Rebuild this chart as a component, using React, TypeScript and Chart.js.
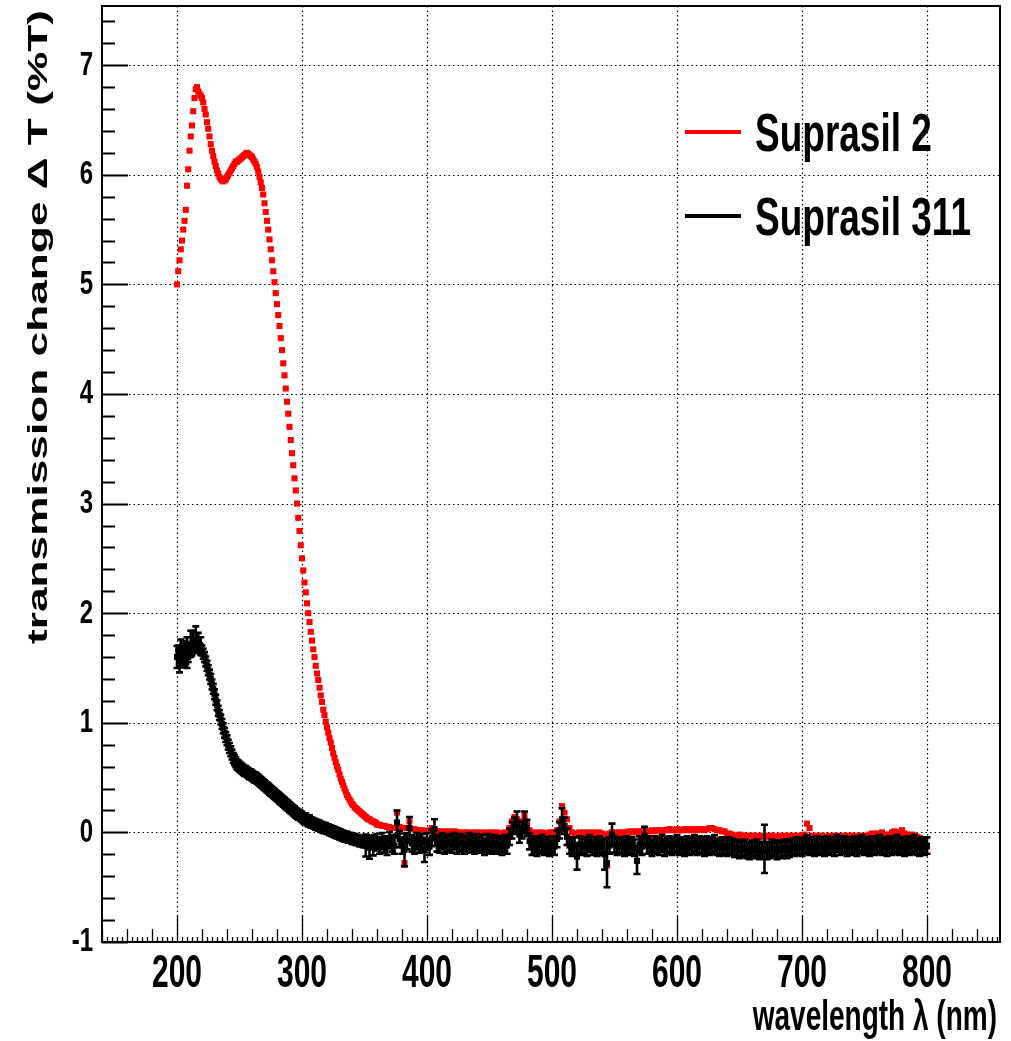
import React, { useEffect, useRef } from "react";
import { Chart, registerables } from "chart.js";

Chart.register(...registerables);

// ---- data ----
// fine scan: 200..359 nm every 1 nm ; coarse scan: 360..800 nm every 2 nm
const FINE_START = 200;
const FINE_STEP = 1;
const COARSE_START = 360;
const COARSE_STEP = 2;

const suprasil2Fine = [
  5.00, 5.12, 5.22, 5.32, 5.40, 5.50, 5.58, 5.68, 5.90, 6.05,
  6.22, 6.35, 6.45, 6.58, 6.70, 6.78, 6.80, 6.76, 6.74, 6.72,
  6.70, 6.66, 6.60, 6.55, 6.48, 6.42, 6.35, 6.28, 6.22, 6.17,
  6.12, 6.08, 6.04, 6.01, 5.98, 5.96, 5.95, 5.94, 5.95, 5.96,
  5.98, 6.00, 6.02, 6.04, 6.06, 6.08, 6.10, 6.12, 6.12, 6.13,
  6.14, 6.15, 6.16, 6.17, 6.18, 6.19, 6.20, 6.19, 6.18, 6.17,
  6.16, 6.14, 6.12, 6.10, 6.07, 6.03, 5.98, 5.93, 5.88, 5.82,
  5.74, 5.66, 5.58, 5.50, 5.41, 5.32, 5.22, 5.12, 5.02, 4.92,
  4.82, 4.72, 4.62, 4.51, 4.40, 4.28, 4.17, 4.05, 3.93, 3.82,
  3.70, 3.58, 3.46, 3.35, 3.23, 3.12, 3.00, 2.87, 2.75, 2.62,
  2.50, 2.39, 2.28, 2.19, 2.09, 2.00, 1.92, 1.83, 1.75, 1.67,
  1.60, 1.52, 1.45, 1.39, 1.32, 1.25, 1.19, 1.12, 1.07, 1.01,
  0.96, 0.91, 0.86, 0.82, 0.77, 0.72, 0.68, 0.64, 0.60, 0.57,
  0.53, 0.49, 0.46, 0.43, 0.40, 0.37, 0.34, 0.32, 0.30, 0.28,
  0.26, 0.25, 0.23, 0.22, 0.21, 0.20, 0.19, 0.18, 0.17, 0.16,
  0.15, 0.14, 0.13, 0.12, 0.12, 0.11, 0.10, 0.10, 0.09, 0.09,
];

const suprasil2Coarse = [
  0.07, 0.07, 0.06, 0.06, 0.05, 0.05, 0.04, 0.04, 0.18, 0.05,
  0.04, -0.28, 0.04, 0.10, 0.03, 0.03, 0.02, 0.02, 0.02, 0.01,
  0.01, 0.02, 0.04, 0.02, 0.01, 0.01, 0.00, 0.01, 0.00, 0.01,
  0.00, 0.01, 0.00, 0.00, -0.01, 0.00, 0.00, -0.01, 0.00, -0.01,
  0.00, -0.01, 0.00, -0.01, 0.00, -0.01, 0.00, -0.01, 0.00, -0.01,
  -0.01, 0.00, -0.01, 0.04, 0.10, 0.14, 0.12, 0.06, 0.10, 0.15,
  0.08, 0.02, 0.00, -0.01, 0.00, -0.01, 0.00, -0.01, -0.01, 0.00,
  0.00, 0.00, 0.02, 0.10, 0.24, 0.18, 0.12, 0.04, 0.00, -0.01,
  -0.22, 0.00, -0.01, 0.00, -0.01, 0.00, -0.01, 0.00, -0.01, 0.00,
  -0.01, -0.02, -0.30, -0.01, 0.00, -0.01, 0.00, 0.00, -0.01, 0.00,
  0.00, 0.01, 0.00, 0.01, 0.00, 0.01, 0.01, 0.00, 0.01, 0.01,
  0.02, 0.01, 0.02, 0.02, 0.01, 0.02, 0.02, 0.03, 0.02, 0.02,
  0.03, 0.02, 0.02, 0.03, 0.02, 0.03, 0.02, 0.03, 0.02, 0.03,
  0.03, 0.02, 0.03, 0.04, 0.04, 0.03, 0.02, 0.02, 0.01, 0.01,
  -0.02, -0.01, -0.02, -0.03, -0.03, -0.02, -0.03, -0.03, -0.04, -0.03,
  -0.03, -0.04, -0.03, -0.04, -0.03, -0.04, -0.03, -0.04, -0.03, -0.04,
  -0.04, -0.03, -0.04, -0.03, -0.04, -0.03, -0.04, -0.03, -0.04, -0.03,
  -0.03, -0.02, 0.08, 0.04, -0.03, -0.04, -0.03, -0.04, -0.03, -0.04,
  -0.04, -0.03, -0.04, -0.03, -0.04, -0.03, -0.04, -0.03, -0.04, -0.03,
  -0.03, -0.04, -0.03, -0.04, -0.03, -0.04, -0.03, -0.02, -0.01, -0.02,
  -0.01, -0.02, 0.00, -0.02, -0.03, -0.02, 0.00, 0.01, 0.00, -0.02,
  0.02, -0.01, -0.02, -0.03, -0.02, -0.03, -0.04, -0.05, -0.07, -0.09,
  -0.13,
];

const suprasil311Fine = [
  1.60, 1.66, 1.58, 1.68, 1.55, 1.62, 1.70, 1.58, 1.64, 1.60,
  1.68, 1.72, 1.66, 1.74, 1.70, 1.76, 1.71, 1.73, 1.68, 1.70,
  1.66, 1.63, 1.60, 1.56, 1.52, 1.48, 1.44, 1.40, 1.35, 1.31,
  1.26, 1.21, 1.16, 1.11, 1.07, 1.03, 0.99, 0.95, 0.91, 0.87,
  0.84, 0.80, 0.77, 0.74, 0.71, 0.68, 0.66, 0.64, 0.62, 0.61,
  0.60, 0.59, 0.58, 0.57, 0.56, 0.56, 0.55, 0.54, 0.53, 0.53,
  0.52, 0.51, 0.50, 0.50, 0.49, 0.48, 0.47, 0.46, 0.45, 0.44,
  0.43, 0.42, 0.41, 0.40, 0.39, 0.38, 0.37, 0.36, 0.35, 0.34,
  0.33, 0.32, 0.31, 0.30, 0.29, 0.28, 0.27, 0.26, 0.25, 0.24,
  0.23, 0.22, 0.21, 0.20, 0.19, 0.18, 0.17, 0.16, 0.16, 0.15,
  0.14, 0.13, 0.12, 0.13, 0.11, 0.10, 0.11, 0.09, 0.09, 0.08,
  0.08, 0.07, 0.07, 0.06, 0.06, 0.05, 0.05, 0.04, 0.04, 0.04,
  0.03, 0.03, 0.02, 0.02, 0.01, 0.01, 0.00, 0.00, -0.01, -0.01,
  -0.02, -0.02, -0.03, -0.03, -0.04, -0.04, -0.04, -0.05, -0.05, -0.05,
  -0.06, -0.06, -0.06, -0.07, -0.07, -0.07, -0.08, -0.08, -0.08, -0.09,
  -0.09, -0.12, -0.07, -0.10, -0.14, -0.08, -0.10, -0.13, -0.07, -0.11,
];

const suprasil311Coarse = [
  -0.09, -0.12, -0.08, -0.11, -0.13, -0.07, -0.10, -0.12, 0.09, -0.06,
  -0.12, -0.16, -0.08, 0.04, -0.10, -0.12, -0.08, -0.11, -0.09, -0.16,
  -0.08, -0.13, -0.05, 0.03, -0.10, -0.11, -0.08, -0.12, -0.10, -0.09,
  -0.11, -0.08, -0.12, -0.10, -0.09, -0.12, -0.11, -0.08, -0.10, -0.12,
  -0.09, -0.11, -0.10, -0.13, -0.09, -0.11, -0.12, -0.10, -0.12, -0.11,
  -0.13, -0.10, -0.12, -0.04, 0.02, 0.06, 0.09, -0.02, 0.02, 0.09,
  0.04, -0.08, -0.13, -0.11, -0.14, -0.12, -0.10, -0.13, -0.12, -0.14,
  -0.11, -0.13, -0.06, 0.02, 0.12, 0.06, -0.04, -0.12, -0.14, -0.12,
  -0.22, -0.11, -0.13, -0.12, -0.14, -0.10, -0.13, -0.12, -0.14, -0.11,
  -0.13, -0.20, -0.28, -0.12, -0.02, -0.11, -0.13, -0.12, -0.12, -0.14,
  -0.11, -0.13, -0.12, -0.14, -0.26, -0.11, -0.13, -0.03, -0.12, -0.11,
  -0.14, -0.11, -0.12, -0.13, -0.10, -0.14, -0.12, -0.11, -0.13, -0.12,
  -0.10, -0.13, -0.12, -0.14, -0.11, -0.13, -0.12, -0.10, -0.13, -0.11,
  -0.12, -0.14, -0.11, -0.13, -0.12, -0.10, -0.13, -0.14, -0.12, -0.13,
  -0.14, -0.12, -0.13, -0.15, -0.14, -0.16, -0.15, -0.14, -0.16, -0.17,
  -0.15, -0.16, -0.14, -0.17, -0.16, -0.15, -0.17, -0.16, -0.14, -0.15,
  -0.17, -0.15, -0.16, -0.14, -0.16, -0.15, -0.13, -0.14, -0.12, -0.13,
  -0.14, -0.12, -0.10, -0.13, -0.12, -0.14, -0.11, -0.13, -0.12, -0.14,
  -0.11, -0.13, -0.12, -0.14, -0.10, -0.13, -0.12, -0.11, -0.14, -0.12,
  -0.13, -0.11, -0.14, -0.12, -0.10, -0.13, -0.12, -0.14, -0.11, -0.13,
  -0.12, -0.10, -0.13, -0.12, -0.14, -0.11, -0.13, -0.12, -0.10, -0.13,
  -0.12, -0.14, -0.11, -0.13, -0.12, -0.10, -0.13, -0.14, -0.12, -0.13,
  -0.12,
];

const ERR_FINE = 0.045;
const ERR_COARSE = 0.075;
const errSpikes: [number, number][] = [
  [200, 0.10], [202, 0.12], [203, 0.08], [205, 0.10], [208, 0.14], [211, 0.12], [213, 0.10],
  [215, 0.12], [217, 0.09], [219, 0.08],
  [351, 0.10], [354, 0.10], [357, 0.08], [376, 0.11], [382, 0.15], [386, 0.10], [398, 0.11],
  [406, 0.09], [472, 0.10], [478, 0.10], [508, 0.10], [520, 0.12], [542, 0.14], [544, 0.22],
  [548, 0.10], [568, 0.12], [574, 0.08], [670, 0.22],
];

const xTickValues = [200, 300, 400, 500, 600, 700, 800];
const yTickValues = [-1, 0, 1, 2, 3, 4, 5, 6, 7];
const legendLabels = ["Suprasil 2", "Suprasil 311"];
const seriesColors = ["#ff0000", "#000000"];
const xTitle = "wavelength \u03bb (nm)";
const yTitle = "transmission change \u0394 T (%T)";

const X_MIN = 140, X_MAX = 858.4, Y_MIN = -1, Y_MAX = 7.54;

const toPts = (fine: number[], coarse: number[]) => [
  ...fine.map((v, i) => ({ x: FINE_START + FINE_STEP * i, y: v })),
  ...coarse.map((v, i) => ({ x: COARSE_START + COARSE_STEP * i, y: v })),
];
const errFor = (x: number) => {
  const s = errSpikes.find((e) => e[0] === x);
  return s ? s[1] : x < COARSE_START ? ERR_FINE : ERR_COARSE;
};

const FONT = '"Liberation Sans", Arial, Helvetica, sans-serif';

function txt(ctx: CanvasRenderingContext2D, s: string, x: number, y: number, size: number, sy: number,
  align: CanvasTextAlign, baseline: CanvasTextBaseline, rotate = false) {
  ctx.save();
  ctx.translate(x, y);
  ctx.scale(1, sy);
  if (rotate) ctx.rotate(-Math.PI / 2);
  ctx.font = `bold ${size}px ${FONT}`;
  ctx.textAlign = align;
  ctx.textBaseline = baseline;
  ctx.fillStyle = "#000";
  ctx.fillText(s, 0, 0);
  ctx.restore();
}

const blackPts = toPts(suprasil311Fine, suprasil311Coarse);
const redPts = toPts(suprasil2Fine, suprasil2Coarse);

const rootPlugin = {
  id: "rootStyle",
  beforeDatasetsDraw(chart: any) {
    const { ctx, chartArea: a, scales } = chart;
    const xs = scales.x, ys = scales.y;
    ctx.save();
    ctx.strokeStyle = "#000";
    ctx.lineWidth = 1.2;
    ctx.setLineDash([1.5, 3]);
    for (const v of xTickValues) {
      const px = Math.round(xs.getPixelForValue(v)) + 0.5;
      ctx.beginPath(); ctx.moveTo(px, a.top); ctx.lineTo(px, a.bottom); ctx.stroke();
    }
    for (const v of yTickValues) {
      const py = Math.round(ys.getPixelForValue(v)) + 0.5;
      ctx.beginPath(); ctx.moveTo(a.left, py); ctx.lineTo(a.right, py); ctx.stroke();
    }
    ctx.restore();
  },
  afterDatasetsDraw(chart: any) {
    const { ctx, chartArea: a, scales } = chart;
    const xs = scales.x, ys = scales.y;
    ctx.save();
    ctx.beginPath(); ctx.rect(a.left, a.top, a.right - a.left, a.bottom - a.top); ctx.clip();
    ctx.strokeStyle = "#000";
    ctx.lineWidth = 2.6;
    blackPts.forEach((p) => {
      const e = errFor(p.x);
      const px = xs.getPixelForValue(p.x);
      const p1 = ys.getPixelForValue(p.y + e), p2 = ys.getPixelForValue(p.y - e);
      ctx.beginPath();
      ctx.moveTo(px, p1); ctx.lineTo(px, p2);
      ctx.moveTo(px - 3.5, p1); ctx.lineTo(px + 3.5, p1);
      ctx.moveTo(px - 3.5, p2); ctx.lineTo(px + 3.5, p2);
      ctx.stroke();
    });
    ctx.restore();
  },
  afterDraw(chart: any) {
    const { ctx, chartArea: a, scales } = chart;
    const xs = scales.x, ys = scales.y;
    ctx.save();
    ctx.strokeStyle = "#000";
    ctx.lineWidth = 2;
    ctx.strokeRect(a.left, a.top, a.right - a.left, a.bottom - a.top);
    for (let k = Math.ceil(Y_MIN * 5); k <= Math.floor(Y_MAX * 5); k++) {
      const v = k / 5;
      const py = Math.round(ys.getPixelForValue(v)) + 0.5;
      const len = k % 5 === 0 ? 26 : 13;
      ctx.beginPath(); ctx.moveTo(a.left, py); ctx.lineTo(a.left + len, py); ctx.stroke();
    }
    ctx.lineWidth = 1.3;
    for (let v = 140; v <= X_MAX; v += 4) {
      const px = Math.round(xs.getPixelForValue(v)) + 0.5;
      const len = v % 100 === 0 ? 26 : v % 20 === 0 ? 13 : 5;
      ctx.beginPath(); ctx.moveTo(px, a.bottom); ctx.lineTo(px, a.bottom - len); ctx.stroke();
    }
    ctx.restore();
    for (const v of yTickValues) {
      txt(ctx, String(v), 93, ys.getPixelForValue(v), 24, 1.42, "right", "middle");
    }
    for (const v of xTickValues) {
      txt(ctx, String(v), xs.getPixelForValue(v), 987, 30, 1.54, "center", "alphabetic");
    }
    txt(ctx, xTitle, 997, 1030, 28, 1.5, "right", "alphabetic");
    txt(ctx, yTitle, 47, 10, 28, 1.58, "right", "alphabetic", true);
    const legendY = [132, 216];
    legendLabels.forEach((lab, i) => {
      ctx.save();
      ctx.strokeStyle = seriesColors[i];
      ctx.lineWidth = 4;
      ctx.beginPath(); ctx.moveTo(685, legendY[i]); ctx.lineTo(741, legendY[i]); ctx.stroke();
      ctx.restore();
      txt(ctx, lab, 755, legendY[i] + 19, 37, 1.45, "left", "alphabetic");
    });
  },
};

export default function App() {
  const ref = useRef<HTMLCanvasElement | null>(null);
  useEffect(() => {
    if (!ref.current) return;
    const chart = new Chart(ref.current, {
      type: "scatter",
      data: {
        datasets: [
          {
            label: legendLabels[1],
            data: blackPts,
            backgroundColor: seriesColors[1],
            borderWidth: 0,
            pointStyle: "rect",
            pointRadius: 4.3,
            order: 0,
          },
          {
            label: legendLabels[0],
            data: redPts,
            backgroundColor: seriesColors[0],
            borderWidth: 0,
            pointStyle: "rect",
            pointRadius: 4.3,
            order: 1,
          },
        ],
      },
      options: {
        animation: false,
        responsive: false,
        events: [],
        layout: { padding: { left: 102, top: 6, right: 11, bottom: 99 } },
        plugins: { legend: { display: false }, tooltip: { enabled: false } },
        scales: {
          x: { type: "linear", min: X_MIN, max: X_MAX, display: false },
          y: { type: "linear", min: Y_MIN, max: Y_MAX, display: false },
        },
      },
      plugins: [rootPlugin],
    });
    return () => chart.destroy();
  }, []);
  return (
    <div style={{ position: "absolute", left: 0, top: 0, width: 1011, height: 1041, background: "#fff" }}>
      <canvas ref={ref} width={1011} height={1041} style={{ display: "block", width: 1011, height: 1041 }} />
    </div>
  );
}
